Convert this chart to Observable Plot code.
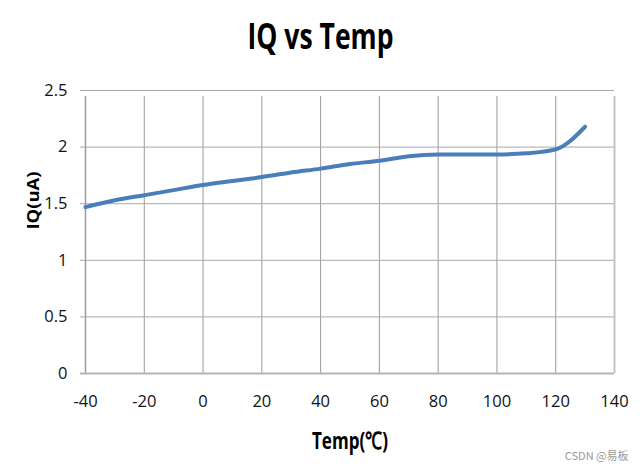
<!DOCTYPE html>
<html>
<head>
<meta charset="utf-8">
<script src="https://cdn.jsdelivr.net/npm/d3@7"></script>
<script src="https://cdn.jsdelivr.net/npm/@observablehq/plot@0.6"></script>
<style>
  html, body { margin: 0; padding: 0; background: #fff; }
</style>
</head>
<body>
<div id="chart"></div>
<script>
const temps = [-40, -30, -20, -10, 0, 10, 20, 30, 40, 50, 60, 70, 80, 90, 100, 110, 120, 130];
const iq    = [1.47, 1.53, 1.575, 1.62, 1.665, 1.70, 1.735, 1.775, 1.81, 1.85, 1.88, 1.92, 1.935, 1.935, 1.935, 1.945, 1.98, 2.18];
const xTicks = [-40, -20, 0, 20, 40, 60, 80, 100, 120, 140];
const yTicks = [0, 0.5, 1, 1.5, 2, 2.5];
const title = "IQ vs Temp";
const xTitle = "Temp(℃)";
const yTitle = "IQ(uA)";
const watermark = "CSDN @易板";

const data = temps.map((t, i) => ({t, v: iq[i]}));

const chart = Plot.plot({
  width: 644,
  height: 472,
  marginLeft: 85,
  marginRight: 30,
  marginTop: 90,
  marginBottom: 99,
  style: {fontFamily: "'Open Sans', sans-serif", fontSize: "16px", color: "#111", background: "#fff"},
  x: {domain: [-40, 140], ticks: xTicks, tickSize: 0, tickPadding: 22, tickFormat: d => String(d), label: null},
  y: {domain: [0, 2.5], ticks: yTicks, tickSize: 0, tickPadding: 18, tickFormat: d => String(d), label: null},
  marks: [
    Plot.ruleX(xTicks.filter(d => d > -40 && d < 140), {y1: 0, y2: 2.5, insetBottom: -6, stroke: "#9a9a9a", strokeWidth: 1}),
    Plot.ruleY(yTicks.filter(d => d > 0), {x1: -40, x2: 140, insetLeft: -5, stroke: "#a8a8a8", strokeWidth: 1}),
    Plot.ruleX([140], {y1: 0, y2: 2.5, insetBottom: -6, stroke: "#c4c4c4", strokeWidth: 2}),
    Plot.ruleX([-40], {y1: 0, y2: 2.5, insetBottom: -6, stroke: "#9a9a9a", strokeWidth: 1.5}),
    Plot.ruleY([0], {x1: -40, x2: 140, insetLeft: -5, stroke: "#b4b4b4", strokeWidth: 2}),
    Plot.line(data, {x: "t", y: "v", stroke: "#4a7ebb", strokeWidth: 4, curve: "monotone-x"}),
    Plot.text([title], {frameAnchor: "top", dx: -29.5, dy: -52.5, lineAnchor: "middle", fontSize: 35, fontWeight: "bold", fill: "#000"}),
    Plot.text([xTitle], {frameAnchor: "bottom", dy: 68, lineAnchor: "middle", fontSize: 24, fontWeight: "bold", fill: "#000"}),
    Plot.text([yTitle], {frameAnchor: "left", dx: -51.3, dy: -2.5, rotate: -90, lineAnchor: "middle", fontSize: 16, fontWeight: "bold", fill: "#000"}),
    Plot.text([watermark], {frameAnchor: "bottom-right", dx: 14, dy: 83, textAnchor: "end", lineAnchor: "middle", fontSize: 11, fill: "#9a9a9a", fontFamily: "'Noto Sans CJK SC', sans-serif"})
  ]
});

// compress horizontal text widths to match the reference's narrow lettering
const lengths = new Map([[title, 146], [xTitle, 76], [yTitle, 58]]);
d3.select(chart).selectAll("text").each(function() {
  const L = lengths.get(this.textContent);
  if (L) { this.setAttribute("textLength", L); this.setAttribute("lengthAdjust", "spacingAndGlyphs"); }
});
// slightly larger tick labels
d3.select(chart).selectAll("g").each(function() {
  const a = this.getAttribute("aria-label") || "";
  if (/^[xy]-axis/.test(a)) this.style.fontSize = "16.5px";
});

document.getElementById("chart").appendChild(chart);
</script>
</body>
</html>
